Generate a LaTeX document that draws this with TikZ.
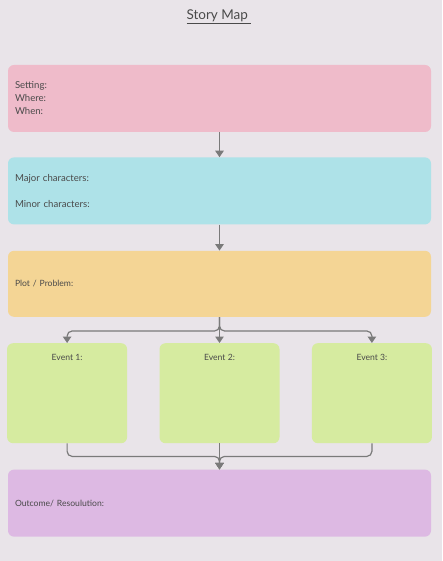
\documentclass[tikz,border=0pt]{standalone}
\usepackage{fontspec}
\setmainfont{Lato}
\usepackage{tikz}
\usetikzlibrary{arrows.meta, positioning, calc}
\definecolor{bgcol}{HTML}{E9E4E9}
\definecolor{settingcol}{HTML}{EFBBCA}
\definecolor{charcol}{HTML}{AEE2E8}
\definecolor{plotcol}{HTML}{F4D595}
\definecolor{eventcol}{HTML}{D6EBA0}
\definecolor{outcomecol}{HTML}{DDB9E3}
\definecolor{linecol}{HTML}{7A7A7A}
\definecolor{textcol}{HTML}{4A4A4A}
\tikzset{
    box/.style={rectangle, rounded corners=6pt, draw=none, text=textcol,
      font=\fontsize{8.6}{13}\selectfont},
    widebox/.append style={box, minimum width=423pt, minimum height=67pt,
      text width=409pt, align=left, inner xsep=7pt},
    bigtext/.style={font=\fontsize{9.6}{13}\selectfont},
    eventbox/.append style={box, minimum width=120pt, minimum height=100pt, fill=eventcol},
    eventlabel/.style={anchor=north, text=textcol, font=\fontsize{8.6}{13}\selectfont, yshift=-8pt},
    flow/.style={draw=linecol, line width=1.2pt, rounded corners=5pt},
    tip/.style={-{Triangle[width=8.5pt, length=6.5pt]}},
}

\begin{document}
\begin{tikzpicture}[x=1pt, y=1pt]
    \tikzset{
      node distance=26pt
    }

    \fill[bgcol] (0,0) rectangle (442,-561);
    \useasboundingbox (0,0) rectangle (442,-561);

    \node[text=textcol, font=\fontsize{13.5}{16}\selectfont] (title) at (219,-17) {\underline{Story Map\ }};

    \node[widebox, bigtext, fill=settingcol] (setting) at (219.5,-98.5) {Setting:\\Where:\\When:};
    \node[widebox, bigtext, fill=charcol, below=25pt of setting] (chars) {Major characters:\\[13pt]Minor characters:};
    \node[widebox, fill=plotcol, minimum height=66pt, below=of chars] (plot) {Plot / Problem:};

    % events
    \node[eventbox, below=of plot, label={[eventlabel]north:Event 2:}] (ev2) {};
    \node[eventbox, left=32pt of ev2, label={[eventlabel]north:Event 1:}] (ev1) {};
    \node[eventbox, right=32pt of ev2, label={[eventlabel]north:Event 3:}] (ev3) {};

    \node[widebox, fill=outcomecol, below=of ev2] (outcome) {Outcome/ Resoulution:};

    \coordinate[below=14pt of plot.south] (split);
    \coordinate[below=13pt of ev2.south] (join);

    \draw[flow, tip] (setting) -- (chars);
    \draw[flow, tip] (chars) -- (plot);
    \draw[flow, tip] (plot.south) -- (ev2.north);
    \draw[flow, tip] (plot.south) -- (split) -| (ev1.north);
    \draw[flow, tip] (plot.south) -- (split) -| (ev3.north);
    \draw[flow, tip] (ev2.south) -- (outcome.north);
    \draw[flow, tip] (ev1.south) |- (join) -- (outcome.north);
    \draw[flow, tip] (ev3.south) |- (join) -- (outcome.north);
\end{tikzpicture}
\end{document}
